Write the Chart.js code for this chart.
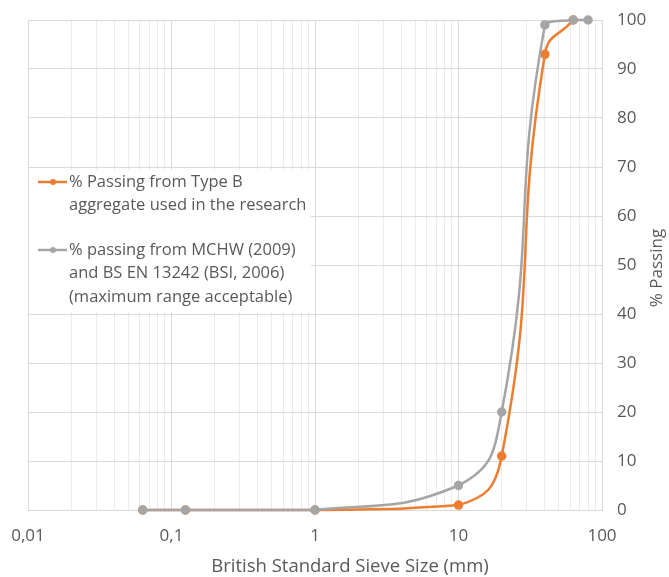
<!DOCTYPE html>
<html>
<head>
<meta charset="utf-8">
<script src="https://cdn.jsdelivr.net/npm/chart.js@4.4.0/dist/chart.umd.min.js"></script>
<style>
  html, body { margin: 0; padding: 0; background: #fff; }
  #wrap { width: 669px; height: 577px; }
</style>
</head>
<body>
<div id="wrap"><canvas id="sieveChart" width="669" height="577"></canvas></div>
<script>
// grading data
const typeBSizes = [0.063, 0.125, 1, 10, 20, 40, 63];
const typeBPassing = [0, 0, 0, 1, 11, 93, 100];
const mchwSizes = [0.063, 0.125, 1, 10, 20, 40, 63, 80];
const mchwPassing = [0, 0, 0, 5, 20, 99, 100, 100];

const typeBLabel = ['% Passing from Type B', 'aggregate used in the research'];
const mchwLabel = ['% passing from MCHW (2009)', 'and BS EN 13242 (BSI, 2006)', '(maximum range acceptable)'];

const xDecades = [0.01, 0.1, 1, 10, 100];
const xTickLabels = ['0,01', '0,1', '1', '10', '100'];
const xTitle = 'British Standard Sieve Size (mm)';
const yTitle = '% Passing';

const ORANGE = '#ED7D31';
const GREY = '#A5A5A5';
const TEXT = '#595959';
const FONT = '"Open Sans", sans-serif';

function toPoints(xs, ys) {
    return xs.map((x, i) => ({ x: x, y: ys[i] }));
}

function isDecade(v) {
    return xDecades.some(d => Math.abs(d - v) < d * 1e-6);
}

// custom legend box inside the plot, text wraps over several lines
const insideLegend = {
    id: 'insideLegend',
    afterDatasetsDraw(chart) {
        const ctx = chart.ctx;
        const area = chart.chartArea;
        ctx.save();
        ctx.fillStyle = '#fff';
        ctx.fillRect(area.left + 1, 170, 282, 142);
        ctx.font = '16.5px ' + FONT;
        ctx.textBaseline = 'middle';
        ctx.textAlign = 'left';
        const items = [
            { color: ORANGE, lines: typeBLabel, y: 182 },
            { color: GREY, lines: mchwLabel, y: 250 }
        ];
        items.forEach(item => {
            ctx.strokeStyle = item.color;
            ctx.lineWidth = 2.5;
            ctx.beginPath();
            ctx.moveTo(38, item.y);
            ctx.lineTo(67, item.y);
            ctx.stroke();
            ctx.fillStyle = item.color;
            ctx.beginPath();
            ctx.arc(53, item.y, 3, 0, Math.PI * 2);
            ctx.fill();
            ctx.fillStyle = TEXT;
            item.lines.forEach((line, i) => {
                ctx.fillText(line, 69, item.y + i * 23.5);
            });
        });
        ctx.restore();
    }
};

// axis titles: x title sits right of centre, y title reads bottom-to-top
const axisTitles = {
    id: 'axisTitles',
    afterDraw(chart) {
        const ctx = chart.ctx;
        const area = chart.chartArea;
        ctx.save();
        ctx.fillStyle = TEXT;
        ctx.textAlign = 'center';
        ctx.textBaseline = 'middle';
        ctx.font = '18.5px ' + FONT;
        ctx.fillText(xTitle, 350, 567);
        ctx.translate(657, (area.top + area.bottom) / 2 + 3);
        ctx.rotate(-Math.PI / 2);
        ctx.font = '17px ' + FONT;
        ctx.fillText(yTitle, 0, 0);
        ctx.restore();
    }
};

const ctx = document.getElementById('sieveChart').getContext('2d');
new Chart(ctx, {
    type: 'line',
    data: {
        datasets: [
            {
                label: mchwLabel.join(' '),
                data: toPoints(mchwSizes, mchwPassing),
                borderColor: GREY,
                backgroundColor: GREY,
                borderWidth: 2.5,
                pointRadius: 3.5,
                pointHoverRadius: 3.5,
                tension: 0.5,
                clip: false
            },
            {
                label: typeBLabel.join(' '),
                data: toPoints(typeBSizes, typeBPassing),
                borderColor: ORANGE,
                backgroundColor: ORANGE,
                borderWidth: 2.5,
                pointRadius: 3.5,
                pointHoverRadius: 3.5,
                tension: 0.5,
                clip: false
            }
        ]
    },
    options: {
        responsive: false,
        animation: false,
        layout: { padding: { left: 28, top: 20, right: 0, bottom: 0 } },
        plugins: {
            legend: { display: false },
            tooltip: { enabled: false }
        },
        scales: {
            x: {
                type: 'logarithmic',
                position: 'bottom',
                min: 0.01,
                max: 100,
                afterBuildTicks(scale) {
                    const ticks = [];
                    xDecades.forEach((d, i) => {
                        if (i === xDecades.length - 1) {
                            ticks.push({ value: d });
                            return;
                        }
                        for (let m = 1; m <= 9; m++) {
                            ticks.push({ value: Number((m * d).toPrecision(3)) });
                        }
                    });
                    scale.ticks = ticks;
                },
                afterFit(scale) {
                    scale.height = 67;
                    scale.paddingLeft = 0;
                    scale.paddingRight = 0;
                },
                grid: {
                    drawTicks: false,
                    color: c => (c.tick && isDecade(c.tick.value)) ? '#D9D9D9' : '#EBEBEB',
                    lineWidth: 1
                },
                border: { color: '#D9D9D9' },
                ticks: {
                    autoSkip: false,
                    maxRotation: 0,
                    padding: 16,
                    color: TEXT,
                    font: { family: FONT, size: 17 },
                    callback(value) {
                        const i = xDecades.findIndex(d => Math.abs(d - value) < d * 1e-6);
                        return i >= 0 ? xTickLabels[i] : '';
                    }
                }
            },
            y: {
                position: 'right',
                min: 0,
                max: 100,
                afterFit(scale) {
                    scale.width = 67;
                    scale.paddingTop = 0;
                    scale.paddingBottom = 0;
                },
                grid: { drawTicks: false, color: '#D9D9D9' },
                border: { color: '#D9D9D9' },
                ticks: {
                    stepSize: 10,
                    padding: 15,
                    color: TEXT,
                    font: { family: FONT, size: 17 }
                }
            }
        }
    },
    plugins: [insideLegend, axisTitles]
});
</script>
</body>
</html>
